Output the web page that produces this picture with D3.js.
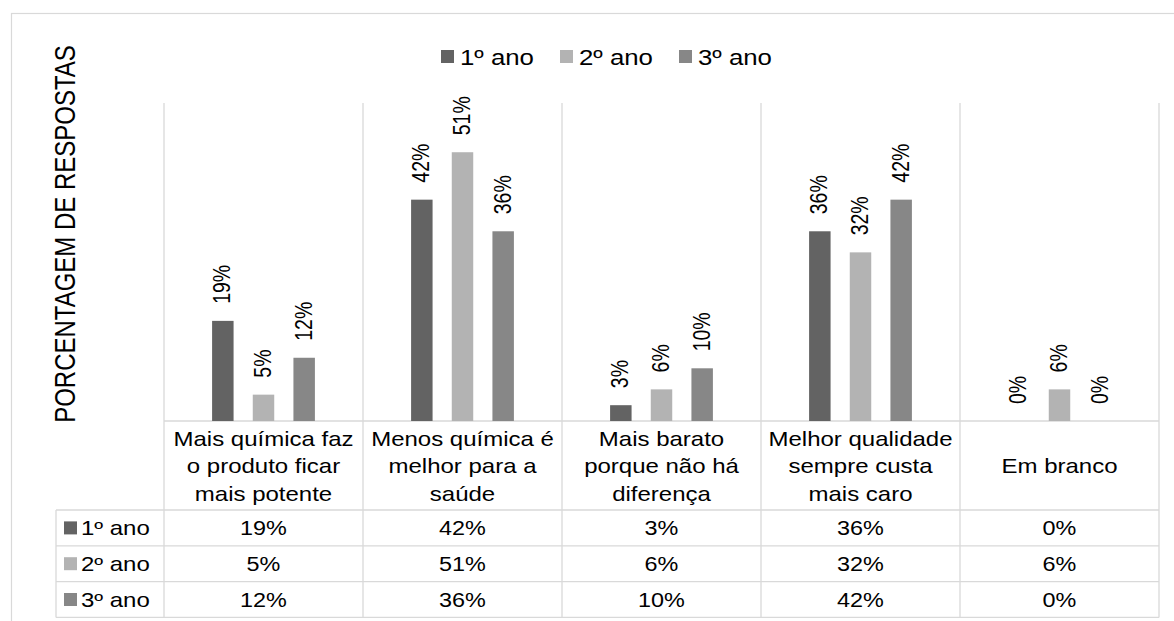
<!DOCTYPE html>
<html>
<head>
<meta charset="utf-8">
<script src="https://cdn.jsdelivr.net/npm/d3@7"></script>
<style>
  html, body { margin: 0; padding: 0; background: #fff; }
  svg { display: block; font-family: "Liberation Sans", Arial, sans-serif; }
</style>
</head>
<body>
<svg id="chart" width="1174" height="621"></svg>
<script>
// ---------- data ----------
const categories = [
  "Mais química faz|o produto ficar|mais potente",
  "Menos química é|melhor para a|saúde",
  "Mais barato|porque não há|diferença",
  "Melhor qualidade|sempre custa|mais caro",
  "Em branco"
];
const seriesNames = ["1º ano", "2º ano", "3º ano"];
const ano1 = [19, 42, 3, 36, 0];
const ano2 = [5, 51, 6, 32, 6];
const ano3 = [12, 36, 10, 42, 0];
const yTitle = "PORCENTAGEM DE RESPOSTAS";

// ---------- styles ----------
const colors = ["#636363", "#b3b3b3", "#878787"];
const gridColor = "#d9d9d9";
const SX = 1.2; // horizontal text stretch seen in the reference

const seriesValues = [ano1, ano2, ano3];
const svg = d3.select("#chart");

// outer frame
svg.append("rect").attr("x", 11.5).attr("y", 13.5).attr("width", 1300).attr("height", 700)
  .attr("fill", "none").attr("stroke", gridColor).attr("stroke-width", 1.2);

// scales
const plotLeft = 164, plotRight = 1159, plotTop = 103, baseY = 421;
const x0 = d3.scaleBand().domain(d3.range(categories.length)).range([plotLeft, plotRight]).padding(0);
const innerW = 122;
const x1 = d3.scaleBand().domain(d3.range(seriesNames.length)).range([-innerW / 2, innerW / 2])
  .paddingInner(0.472).paddingOuter(0.236);
const y = d3.scaleLinear().domain([0, 60]).range([baseY, baseY - 60 * 5.27]);

function stretchText(sel, x, yy, rot) {
  sel.attr("transform", `translate(${x},${yy}) scale(${SX},1)` + (rot ? ` rotate(${rot})` : ""));
}

// table geometry
const rowHeaderLeft = 56;
const headerBottom = 510;
const rowH = 35.8;
const tableBottom = headerBottom + rowH * 3;

const grid = svg.append("g").attr("stroke", gridColor).attr("stroke-width", 1.3).attr("fill", "none");
// category separators
x0.domain().concat([categories.length]).forEach(i => {
  const xx = i < categories.length ? x0(i) : x0.range()[1];
  grid.append("line").attr("x1", xx).attr("x2", xx).attr("y1", plotTop).attr("y2", tableBottom);
});
// baseline
grid.append("line").attr("x1", plotLeft).attr("x2", plotRight).attr("y1", baseY).attr("y2", baseY);
// table horizontal lines
for (let r = 0; r <= 3; r++) {
  const yy = headerBottom + r * rowH;
  grid.append("line").attr("x1", rowHeaderLeft).attr("x2", plotRight).attr("y1", yy).attr("y2", yy);
}
grid.append("line").attr("x1", rowHeaderLeft).attr("x2", rowHeaderLeft).attr("y1", headerBottom).attr("y2", tableBottom);

// bars
const groups = svg.append("g").selectAll("g").data(categories).join("g")
  .attr("transform", (d, i) => `translate(${x0(i) + x0.bandwidth() / 2},0)`);

groups.each(function (cat, ci) {
  const g = d3.select(this);
  seriesValues.forEach((vals, si) => {
    const v = vals[ci];
    g.append("rect")
      .attr("x", x1(si)).attr("width", x1.bandwidth())
      .attr("y", y(v)).attr("height", y(0) - y(v))
      .attr("fill", colors[si]);
    const t = g.append("text")
      .attr("font-size", 19.5).attr("fill", "#000")
      .attr("text-anchor", "start").attr("dominant-baseline", "central")
      .text(v + "%");
    stretchText(t, x1(si) + x1.bandwidth() / 2, y(v) - 17, -90);
  });
});

// category labels in table header
const lineH = 27.5;
const headerMid = (baseY + headerBottom) / 2;
categories.forEach((c, i) => {
  const lines = c.split("|");
  const cx = x0(i) + x0.bandwidth() / 2;
  lines.forEach((ln, li) => {
    const yy = headerMid + (li - (lines.length - 1) / 2) * lineH + 7.5;
    const t = svg.append("text").attr("font-size", 20).attr("fill", "#000")
      .attr("text-anchor", "middle").text(ln);
    stretchText(t, cx, yy);
  });
});

// table rows
seriesNames.forEach((s, si) => {
  const top = headerBottom + si * rowH;
  const mid = top + rowH / 2;
  svg.append("rect").attr("x", 64).attr("y", mid - 6.5).attr("width", 13).attr("height", 13).attr("fill", colors[si]);
  const t = svg.append("text").attr("font-size", 20).attr("fill", "#000").text(s);
  stretchText(t, 81, mid + 7.5);
  seriesValues[si].forEach((v, ci) => {
    const tv = svg.append("text").attr("font-size", 19.5).attr("fill", "#000")
      .attr("text-anchor", "middle").text(v + "%");
    stretchText(tv, x0(ci) + x0.bandwidth() / 2, mid + 7.5);
  });
});

// legend
const legendStart = 441, legendStep = 119;
seriesNames.forEach((s, si) => {
  const lx = legendStart + si * legendStep;
  svg.append("rect").attr("x", lx).attr("y", 50).attr("width", 13).attr("height", 13).attr("fill", colors[si]);
  const t = svg.append("text").attr("font-size", 21.5).attr("fill", "#000").text(s);
  stretchText(t, lx + 19, 65);
});

// y axis title
const yt = svg.append("text").attr("font-size", 24).attr("fill", "#000")
  .attr("text-anchor", "middle").attr("dominant-baseline", "central").text(yTitle);
stretchText(yt, 65, 234, -90);
</script>
</body>
</html>
